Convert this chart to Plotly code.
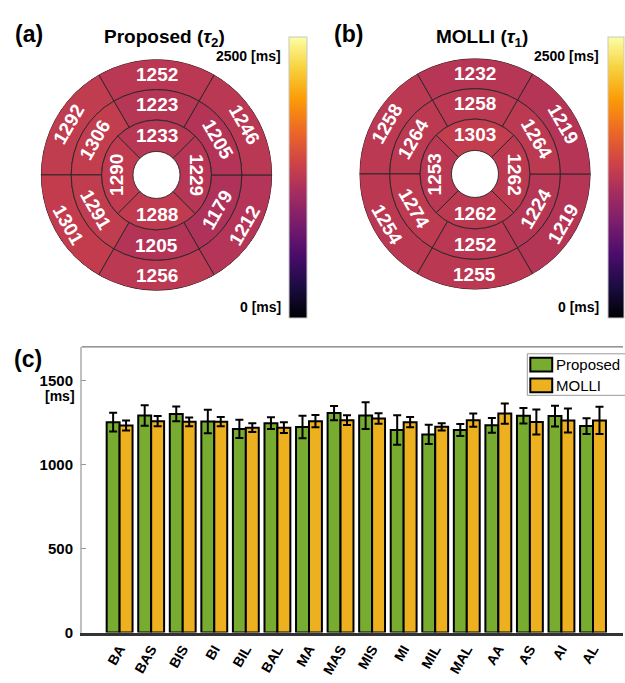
import math
import plotly.graph_objects as go

# ---- data -------------------------------------------------------------
segments = ["BA", "BAS", "BIS", "BI", "BIL", "BAL",
            "MA", "MAS", "MIS", "MI", "MIL", "MAL",
            "AA", "AS", "AI", "AL"]
proposed_t2 = [1252, 1292, 1301, 1256, 1212, 1246,
               1223, 1306, 1291, 1205, 1179, 1205,
               1233, 1290, 1288, 1229]
molli_t1 = [1232, 1258, 1254, 1255, 1219, 1219,
            1258, 1264, 1274, 1252, 1224, 1264,
            1303, 1253, 1262, 1262]
proposed_sd = [56, 61, 44, 70, 55, 35, 67, 42, 80, 88, 57, 36, 44, 46, 62, 47]
molli_sd = [30, 31, 26, 28, 26, 32, 37, 29, 31, 30, 22, 39, 60, 74, 72, 81]
y_ticks = [0, 500, 1000, 1500]
cbar_min, cbar_max = 0, 2500

# ---- bullseye geometry (AHA 16-segment) -------------------------------
ring_edges = [24, 56, 87, 118]            # hole, apical, mid, basal outer radii
ring_index = [2] * 6 + [1] * 6 + [0] * 4  # 0 = apical ring (innermost)
seg_angle = [90, 150, 210, 270, 330, 30] * 2 + [90, 180, 270, 0]
seg_span = [60] * 12 + [90] * 4
R = ring_edges[-1]

FONT = "Liberation Sans, Arial, sans-serif"
GREEN = "#77AC30"
ORANGE = "#EDB120"

fig = go.Figure()

bases = [ring_edges[k] for k in ring_index]
widths = [ring_edges[k + 1] - ring_edges[k] for k in ring_index]
mid_r = [(ring_edges[k] + ring_edges[k + 1]) / 2 for k in ring_index]


def text_angle(theta):
    """Rotate a segment label so it runs along the ring, upright."""
    t = 90 - theta
    if 180 < theta < 360:
        t += 180
    return t


panels = [
    dict(values=proposed_t2, polar="polar", xa="x2", ya="y2",
         dom_x=[0.0640, 0.4384], dom_y=[0.5695, 0.9122], cbar_x=0.464,
         cbar_th=18),
    dict(values=molli_t1, polar="polar2", xa="x3", ya="y3",
         dom_x=[0.5752, 0.9496], dom_y=[0.5710, 0.9136], cbar_x=0.976,
         cbar_th=16),
]

annotations = []
for p in panels:
    fig.add_trace(go.Barpolar(
        r=widths, base=bases, theta=seg_angle, width=seg_span,
        subplot=p["polar"],
        marker=dict(color=p["values"], colorscale="Inferno",
                    cmin=cbar_min, cmax=cbar_max,
                    line=dict(color="#262626", width=0.9),
                    showscale=True,
                    colorbar=dict(x=p["cbar_x"], xanchor="left", xpad=0, ypad=0,
                                  y=1 - 37 / 683, yanchor="top",
                                  len=281, lenmode="pixels",
                                  thickness=p["cbar_th"], thicknessmode="pixels",
                                  showticklabels=False, ticks="",
                                  outlinewidth=1, outlinecolor="#c8c8c8")),
        hoverinfo="skip", showlegend=False))
    # invisible carrier so the overlay axes for the labels exist
    fig.add_trace(go.Scatter(x=[0], y=[0], xaxis=p["xa"], yaxis=p["ya"],
                             mode="markers", marker=dict(opacity=0),
                             hoverinfo="skip", showlegend=False))
    for v, th, rr in zip(p["values"], seg_angle, mid_r):
        annotations.append(dict(
            x=rr * math.cos(math.radians(th)), y=rr * math.sin(math.radians(th)),
            xref=p["xa"], yref=p["ya"], text=str(v), showarrow=False,
            xanchor="center", yanchor="middle",
            textangle=text_angle(th),
            font=dict(family=FONT, size=19, color="white", weight="bold")))

# ---- bar chart --------------------------------------------------------
x_idx = list(range(len(segments)))
fig.add_trace(go.Bar(
    x=x_idx, y=proposed_t2, name="Proposed",
    marker=dict(color=GREEN, line=dict(color="black", width=2)),
    error_y=dict(type="data", array=proposed_sd, color="black", thickness=2, width=4),
    showlegend=False))
fig.add_trace(go.Bar(
    x=x_idx, y=molli_t1, name="MOLLI",
    marker=dict(color=ORANGE, line=dict(color="black", width=2)),
    error_y=dict(type="data", array=molli_sd, color="black", thickness=2, width=4),
    showlegend=False))

# panel titles and labels
bold = dict(family=FONT, color="black", weight="bold")
annotations += [
    dict(x=13 / 625, y=1 - 19 / 683, xanchor="left", text="(a)",
         font=dict(size=23, **bold)),
    dict(x=165 / 625, y=1 - 24 / 683, xanchor="center",
         text="Proposed (<i>τ</i><sub>2</sub>)", font=dict(size=19, **bold)),
    dict(x=333 / 625, y=1 - 19 / 683, xanchor="left", text="(b)",
         font=dict(size=23, **bold)),
    dict(x=484 / 625, y=1 - 24 / 683, xanchor="center",
         text="MOLLI (<i>τ</i><sub>1</sub>)", font=dict(size=19, **bold)),
    dict(x=284 / 625, y=1 - 47 / 683, xanchor="right", text=f"{cbar_max} [ms]",
         font=dict(size=14, **bold)),
    dict(x=284 / 625, y=1 - 311 / 683, xanchor="right", text=f"{cbar_min} [ms]",
         font=dict(size=14, **bold)),
    dict(x=603 / 625, y=1 - 47 / 683, xanchor="right", text=f"{cbar_max} [ms]",
         font=dict(size=14, **bold)),
    dict(x=603 / 625, y=1 - 311 / 683, xanchor="right", text=f"{cbar_min} [ms]",
         font=dict(size=14, **bold)),
    dict(x=12 / 625, y=1 - 363 / 683, xanchor="left", text="(c)",
         font=dict(size=23, **bold)),
    dict(x=77 / 625, y=1 - 401 / 683, xanchor="right", text="[ms]",
         font=dict(size=14, **bold)),
    # legend entries
    dict(x=556 / 625, y=1 - 369 / 683, xanchor="left", text="Proposed",
         font=dict(family=FONT, size=15, color="black")),
    dict(x=556 / 625, y=1 - 390 / 683, xanchor="left", text="MOLLI",
         font=dict(family=FONT, size=15, color="black")),
]
for a in annotations:
    a.setdefault("xref", "paper")
    a.setdefault("yref", "paper")
    a.setdefault("showarrow", False)

shapes = [
    # top frame of the bar axes
    dict(type="line", xref="x domain", yref="y domain", x0=0, x1=1, y0=1, y1=1,
         line=dict(color="#555555", width=1)),
    # legend box and swatches
    dict(type="rect", xref="paper", yref="paper",
         x0=529 / 625, x1=1.05, y0=1 - 400 / 683, y1=1 - 358 / 683,
         line=dict(color="#9a9a9a", width=1), fillcolor="white"),
    dict(type="rect", xref="paper", yref="paper",
         x0=532 / 625, x1=554 / 625, y0=1 - 376 / 683, y1=1 - 362 / 683,
         line=dict(color="black", width=2), fillcolor=GREEN),
    dict(type="rect", xref="paper", yref="paper",
         x0=532 / 625, x1=554 / 625, y0=1 - 397 / 683, y1=1 - 383 / 683,
         line=dict(color="black", width=2), fillcolor=ORANGE),
]

polar_common = dict(
    bgcolor="rgba(0,0,0,0)",
    radialaxis=dict(range=[0, R], visible=False),
    angularaxis=dict(visible=False, rotation=0, direction="counterclockwise"),
)
hidden = dict(visible=False, range=[-R, R], fixedrange=True)

fig.update_layout(
    width=625, height=683,
    margin=dict(l=0, r=0, t=0, b=0),
    paper_bgcolor="white", plot_bgcolor="white",
    font=dict(family=FONT, color="black"),
    barmode="group", bargap=0.18, bargroupgap=0,
    polar=dict(domain=dict(x=panels[0]["dom_x"], y=panels[0]["dom_y"]), **polar_common),
    polar2=dict(domain=dict(x=panels[1]["dom_x"], y=panels[1]["dom_y"]), **polar_common),
    xaxis=dict(domain=[82 / 625, 1.0], range=[-1.2, 15.95],
               tickvals=x_idx, ticktext=segments, tickangle=-60,
               tickfont=dict(size=14, **bold), ticks="",
               showline=True, linecolor="#333333", linewidth=3,
               showgrid=False, zeroline=False),
    yaxis=dict(domain=[1 - 640 / 683, 1 - 351 / 683], range=[0, 1700],
               tickvals=y_ticks, tickfont=dict(size=15, **bold),
               ticks="inside", ticklen=5, tickcolor="#999999",
               ticklabelstandoff=4,
               showline=True, linecolor="#c0c0c0", linewidth=1.5,
               showgrid=False, zeroline=False),
    xaxis2=dict(domain=panels[0]["dom_x"], anchor="y2", **hidden),
    yaxis2=dict(domain=panels[0]["dom_y"], anchor="x2", **hidden),
    xaxis3=dict(domain=panels[1]["dom_x"], anchor="y3", **hidden),
    yaxis3=dict(domain=panels[1]["dom_y"], anchor="x3", **hidden),
    annotations=annotations,
    shapes=shapes,
)

fig.write_html("out.html")
